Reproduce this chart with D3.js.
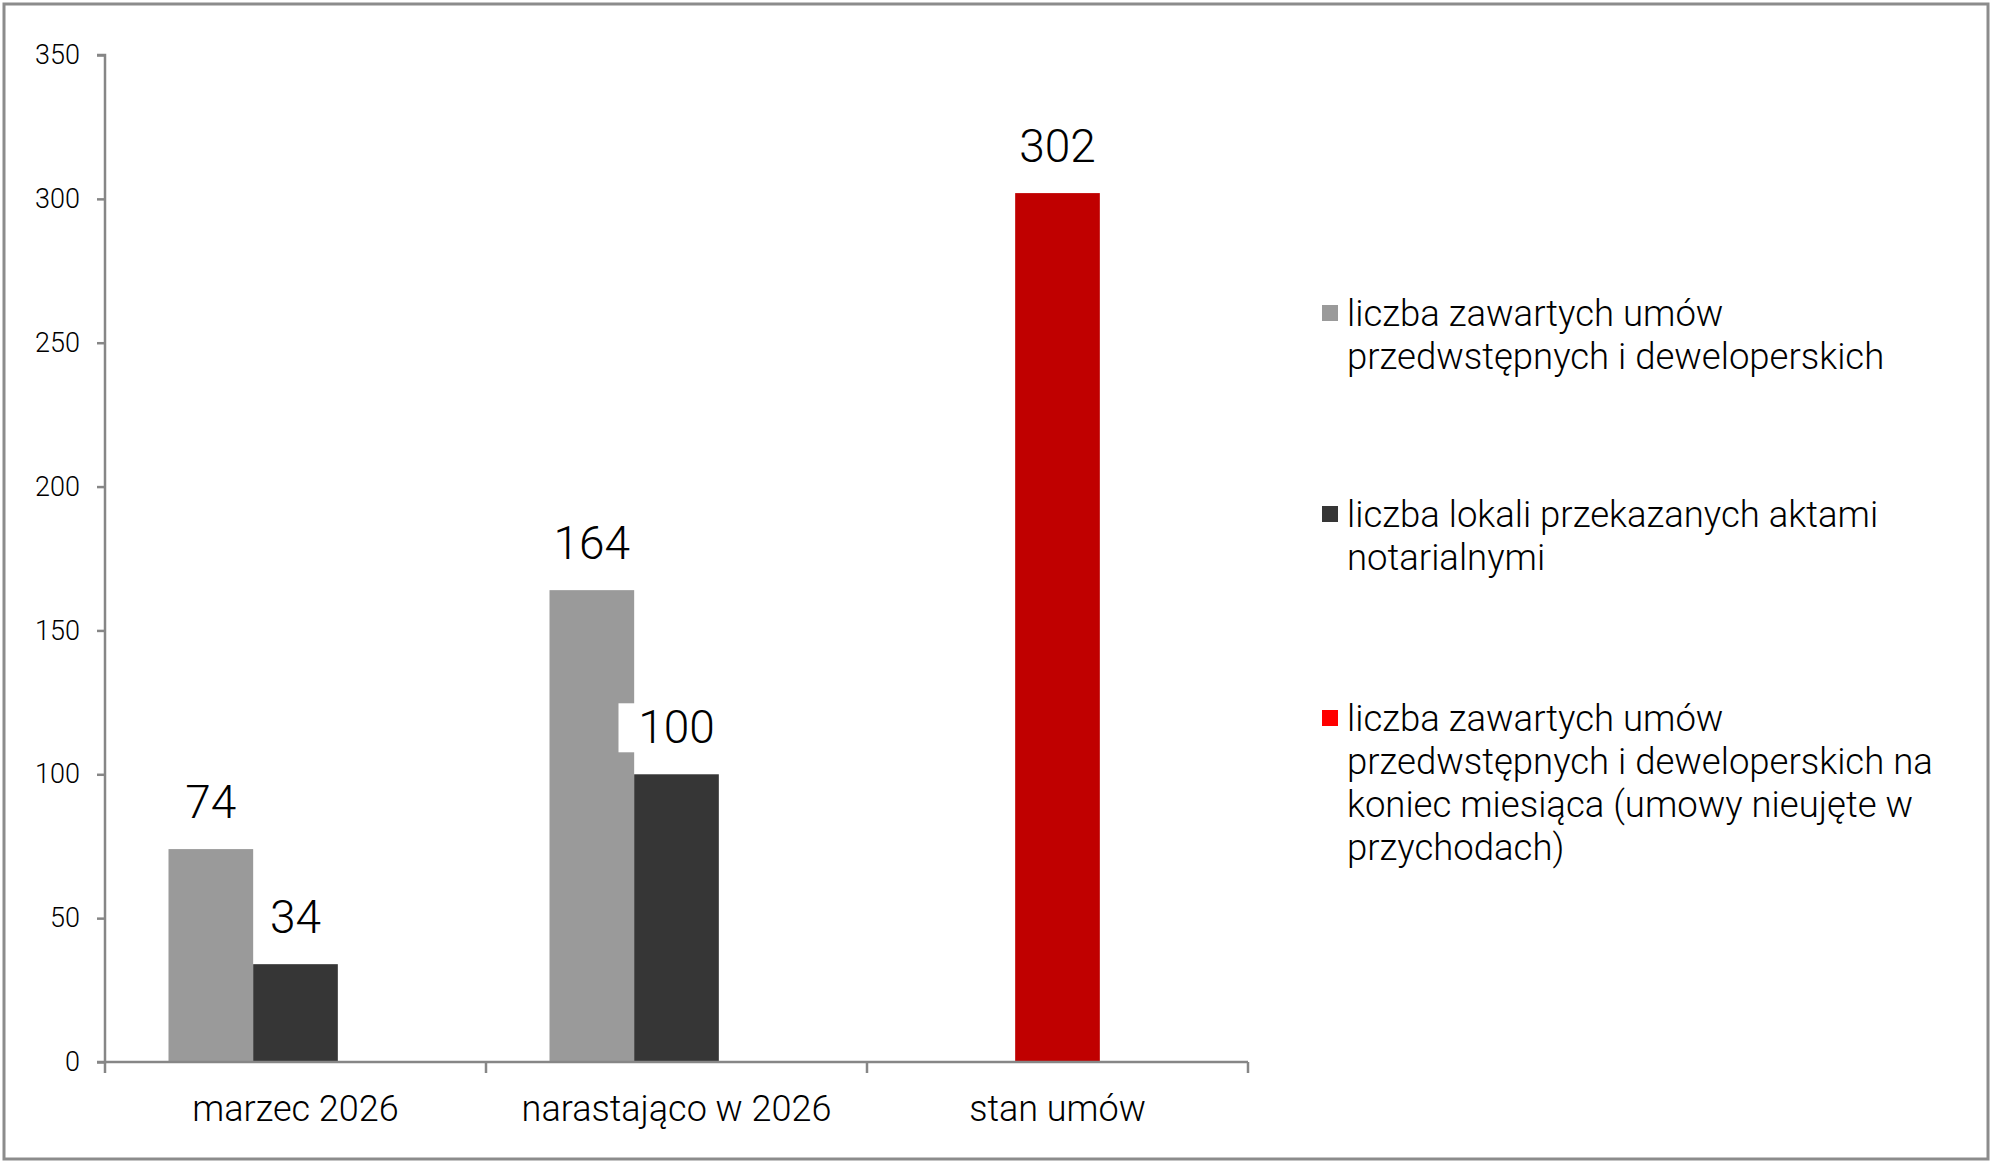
<!DOCTYPE html>
<html><head><meta charset="utf-8">
<script src="https://cdn.jsdelivr.net/npm/d3@7"></script>
<style>
html,body{margin:0;padding:0;background:#fff;}
svg text{font-family:Roboto,"Noto Sans",sans-serif;}
</style></head>
<body>
<svg id="c" width="1993" height="1168"></svg>
<script>
const categories = ["marzec 2026", "narastająco w 2026", "stan umów"];
const seriesNames = [
  "liczba zawartych umów przedwstępnych i deweloperskich",
  "liczba lokali przekazanych aktami notarialnymi",
  "liczba zawartych umów przedwstępnych i deweloperskich na koniec miesiąca (umowy nieujęte w przychodach)"
];
const legendLines = [
  ["liczba zawartych umów", "przedwstępnych i deweloperskich"],
  ["liczba lokali przekazanych aktami", "notarialnymi"],
  ["liczba zawartych umów", "przedwstępnych i deweloperskich na", "koniec miesiąca (umowy nieujęte w", "przychodach)"]
];
const valuesGray = [74, 164, null];
const valuesDark = [34, 100, null];
const valuesRed  = [null, null, 302];
const yTicks = [0, 50, 100, 150, 200, 250, 300, 350];

const barColors = ["#9a9a9a", "#363636", "#c00000"];
const legendColors = ["#9a9a9a", "#363636", "#ff0000"];

const svg = d3.select("#c");
svg.append("rect").attr("x",4).attr("y",4).attr("width",1984).attr("height",1155)
  .attr("fill","#fff").attr("stroke","#8c8c8c").attr("stroke-width",3);

const x0 = d3.scaleBand().domain(categories).range([105,1248]).paddingInner(0).paddingOuter(0);
const x1 = d3.scaleBand().domain([0,1,2]).range([0,x0.bandwidth()]).paddingInner(0).paddingOuter(0.75);
const y = d3.scaleLinear().domain([0,350]).range([1062,55]);

// bars
const series = [valuesGray, valuesDark, valuesRed];
const bars = [];
series.forEach((vals,si)=>{
  vals.forEach((v,ci)=>{
    if(v==null) return;
    let bx;
    if(si===2) bx = x0(categories[ci]) + x0.bandwidth()/2 - x1.bandwidth()/2;
    else bx = x0(categories[ci]) + x1(si);
    bars.push({si,ci,v,bx});
  });
});
svg.append("g").selectAll("rect").data(bars).join("rect")
  .attr("x",d=>d.bx).attr("y",d=>y(d.v))
  .attr("width",x1.bandwidth()).attr("height",d=>y(0)-y(d.v))
  .attr("fill",d=>barColors[d.si]);

// axes
const axisColor = "#868686";
const yAxis = svg.append("g").attr("transform","translate(105,0)")
  .call(d3.axisLeft(y).tickValues(yTicks).tickSize(8).tickPadding(17).tickFormat(d3.format("d")));
yAxis.select(".domain").attr("stroke",axisColor).attr("stroke-width",2.5).attr("d","M-8,55H0V1062H-8");
yAxis.selectAll(".tick line").attr("stroke",axisColor).attr("stroke-width",2.5);
yAxis.selectAll(".tick text").attr("font-size",27).attr("font-weight",300).attr("fill","#000");

const xAxis = svg.append("g").attr("transform","translate(0,1062)")
  .call(d3.axisBottom(x0).tickSize(0).tickPadding(0));
xAxis.select(".domain").attr("stroke",axisColor).attr("stroke-width",2.5).attr("d","M105,0H1248");
xAxis.selectAll(".tick text").attr("font-size",36).attr("font-weight",300).attr("fill","#000")
  .attr("dy",0).attr("y",59);
// category boundary ticks
const bounds = categories.map(c=>x0(c)).concat([x0(categories[categories.length-1])+x0.bandwidth()]);
svg.append("g").selectAll("line").data(bounds).join("line")
  .attr("x1",d=>d).attr("x2",d=>d).attr("y1",1062).attr("y2",1073)
  .attr("stroke",axisColor).attr("stroke-width",2.5);

// data labels
const lbl = svg.append("g");
bars.forEach(d=>{
  const cx = d.bx + x1.bandwidth()/2;
  const cy = y(d.v) - 47;
  if(d.si===1 && d.ci===1){
    lbl.append("rect").attr("x",cx-58).attr("y",cy-24).attr("width",116).attr("height",49).attr("fill","#fff");
  }
  lbl.append("text").attr("x",cx).attr("y",cy).attr("text-anchor","middle")
    .attr("dominant-baseline","central").attr("font-size",46).attr("font-weight",300)
    .attr("fill","#000").text(d.v);
});

// legend
const legendTop = [313, 514, 718];
const lg = svg.append("g");
legendLines.forEach((lines,i)=>{
  lg.append("rect").attr("x",1322).attr("y",legendTop[i]-8).attr("width",16).attr("height",16)
    .attr("fill",legendColors[i]);
  const t = lg.append("text").attr("x",1347).attr("y",legendTop[i]).attr("font-size",36.5)
    .attr("font-weight",300).attr("fill","#000").attr("dominant-baseline","central");
  lines.forEach((l,j)=>{
    t.append("tspan").attr("x",1347).attr("y",legendTop[i]+j*43).text(l);
  });
});
</script>
</body></html>
